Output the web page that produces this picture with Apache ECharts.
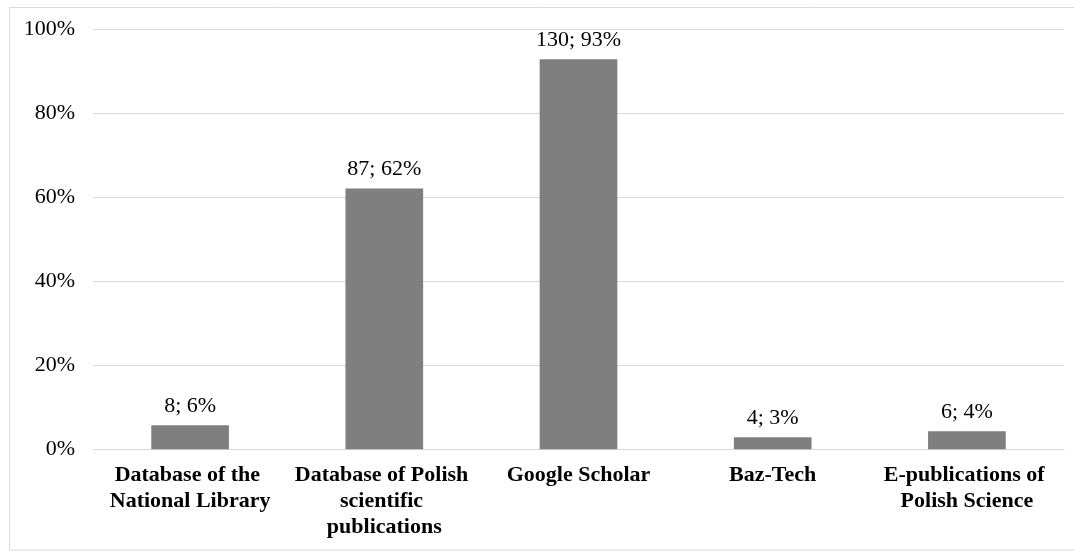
<!DOCTYPE html>
<html>
<head>
<meta charset="utf-8">
<script src="https://cdn.jsdelivr.net/npm/echarts@6/dist/echarts.min.js"></script>
<style>
html,body{margin:0;padding:0;background:#fff;}
#chart{width:1074px;height:551px;}
</style>
</head>
<body>
<div id="chart"></div>
<script>
const categories = [
  "Database of the National Library",
  "Database of Polish scientific publications",
  "Google Scholar",
  "Baz-Tech",
  "E-publications of Polish Science"
];
const counts = [8, 87, 130, 4, 6];
const percents = [5.7, 62.1, 92.9, 2.9, 4.3];
const yTicks = [0, 20, 40, 60, 80, 100];

const chart = echarts.init(document.getElementById('chart'), null, {renderer: 'canvas'});
const font = '"Liberation Serif", "Times New Roman", serif';
chart.setOption({
  animation: false,
  backgroundColor: '#fff',
  graphic: [{
    type: 'rect',
    shape: {x: 9.5, y: 7.5, width: 1070, height: 542.5},
    style: {fill: 'none', stroke: '#d9d9d9', lineWidth: 1},
    silent: true
  }],
  grid: {left: 93, right: 10, top: 29.5, bottom: 101.7, containLabel: false},
  xAxis: {
    type: 'category',
    data: categories,
    axisLine: {show: true, lineStyle: {color: '#d9d9d9', width: 1}},
    axisTick: {show: false},
    axisLabel: {
      interval: 0,
      margin: 13,
      width: 192,
      overflow: 'break',
      fontFamily: font,
      fontWeight: 'bold',
      fontSize: 22,
      lineHeight: 26,
      color: '#000'
    }
  },
  yAxis: {
    type: 'value',
    min: yTicks[0],
    max: yTicks[yTicks.length - 1],
    interval: 20,
    axisLine: {show: false},
    axisTick: {show: false},
    splitLine: {lineStyle: {color: '#d9d9d9', width: 1}},
    axisLabel: {
      margin: 18,
      fontFamily: font,
      fontSize: 22,
      color: '#000',
      formatter: v => v + '%'
    }
  },
  series: [{
    type: 'bar',
    data: percents,
    barWidth: '40%',
    itemStyle: {color: '#7f7f7f'},
    label: {
      show: true,
      position: 'top',
      distance: 8,
      fontFamily: font,
      fontSize: 22,
      color: '#000',
      formatter: p => counts[p.dataIndex] + '; ' + Math.round(p.value) + '%'
    }
  }]
});
</script>
</body>
</html>
